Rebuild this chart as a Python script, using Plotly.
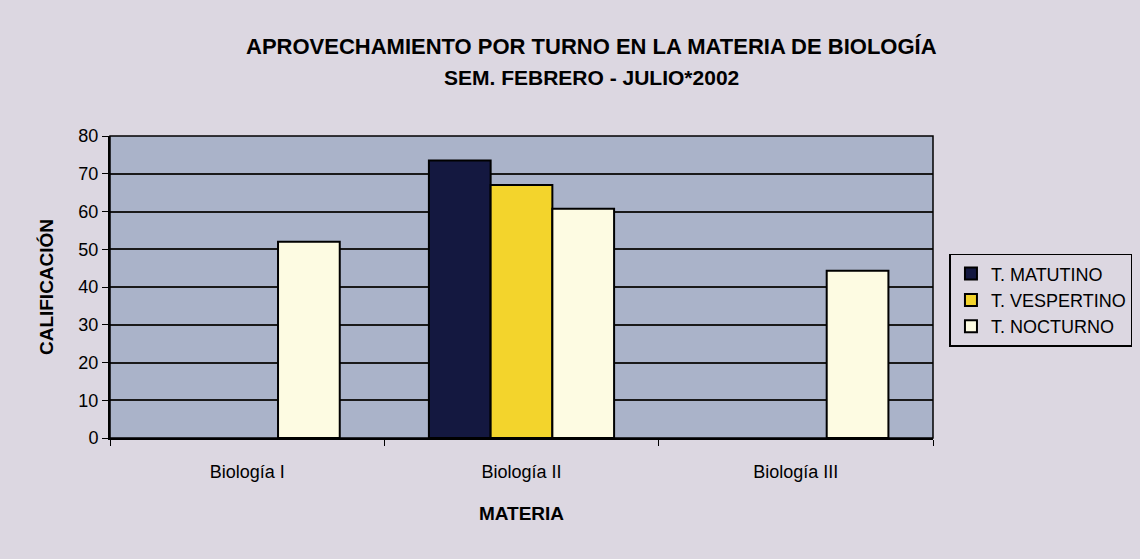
import plotly.graph_objects as go

categories = ["Biología I", "Biología II", "Biología III"]
series_names = ["T. MATUTINO", "T. VESPERTINO", "T. NOCTURNO"]
matutino = [None, 73.5, None]
vespertino = [None, 67, None]
nocturno = [52, 60.7, 44.3]
y_ticks = [0, 10, 20, 30, 40, 50, 60, 70, 80]
title_lines = ["APROVECHAMIENTO POR TURNO EN LA MATERIA DE BIOLOGÍA",
               "SEM. FEBRERO - JULIO*2002"]

colors = ["#141840", "#f3d42c", "#fdfbe2"]
values = [matutino, vespertino, nocturno]

fig = go.Figure()
for name, vals, col in zip(series_names, values, colors):
    fig.add_trace(go.Bar(
        x=categories, y=vals, name=name,
        marker=dict(color=col, line=dict(color="#000000", width=2)),
    ))

FONT = "Liberation Sans, Arial, sans-serif"
fig.update_layout(
    width=1140, height=559,
    barmode="group", bargap=0.325, bargroupgap=0,
    paper_bgcolor="#dcd7e1", plot_bgcolor="#aab3c9",
    margin=dict(l=110, r=207, t=136, b=121, autoexpand=False),
    font=dict(family=FONT, color="#000000"),
    xaxis=dict(
        title=dict(text="<b>MATERIA</b>", font=dict(size=19), standoff=26),
        tickfont=dict(size=18),
        ticklabelstandoff=16,
        showline=True, linecolor="#000000", linewidth=2,
        ticks="outside", tickson="boundaries", ticklen=6, tickcolor="#000000",
        showgrid=False, mirror=False,
    ),
    yaxis=dict(
        title=dict(text="<b>CALIFICACIÓN</b>", font=dict(size=19), standoff=20),
        range=[0, 80], tickvals=y_ticks,
        tickfont=dict(size=18),
        showline=True, linecolor="#000000", linewidth=2,
        ticks="outside", ticklen=6, tickcolor="#000000",
        showgrid=True, gridcolor="#1a1a1a", gridwidth=1.5,
        zeroline=False,
    ),
    legend=dict(
        x=1.02, y=0.61, xanchor="left", yanchor="top",
        bgcolor="#dcd7e1", bordercolor="#000000", borderwidth=1.5,
        font=dict(size=18, family=FONT), tracegroupgap=4,
        itemwidth=30,
    ),
    showlegend=True,
)
fig.add_annotation(text="<b>" + title_lines[0] + "</b>", xref="paper", yref="paper",
                   x=(591 - 110) / 823, y=(438 - 47) / 302, xanchor="center", yanchor="middle",
                   showarrow=False, font=dict(size=22, family=FONT))
fig.add_annotation(text="<b>" + title_lines[1] + "</b>", xref="paper", yref="paper",
                   x=(591 - 110) / 823, y=(438 - 78) / 302, xanchor="center", yanchor="middle",
                   showarrow=False, font=dict(size=21, family=FONT))
fig.add_shape(type="rect", xref="paper", yref="paper",
              x0=0, x1=1, y0=0, y1=1, line=dict(color="#000000", width=1.5))
fig.write_html("out.html", config={"displayModeBar": False},
               post_script="document.body.style.margin='0';")
